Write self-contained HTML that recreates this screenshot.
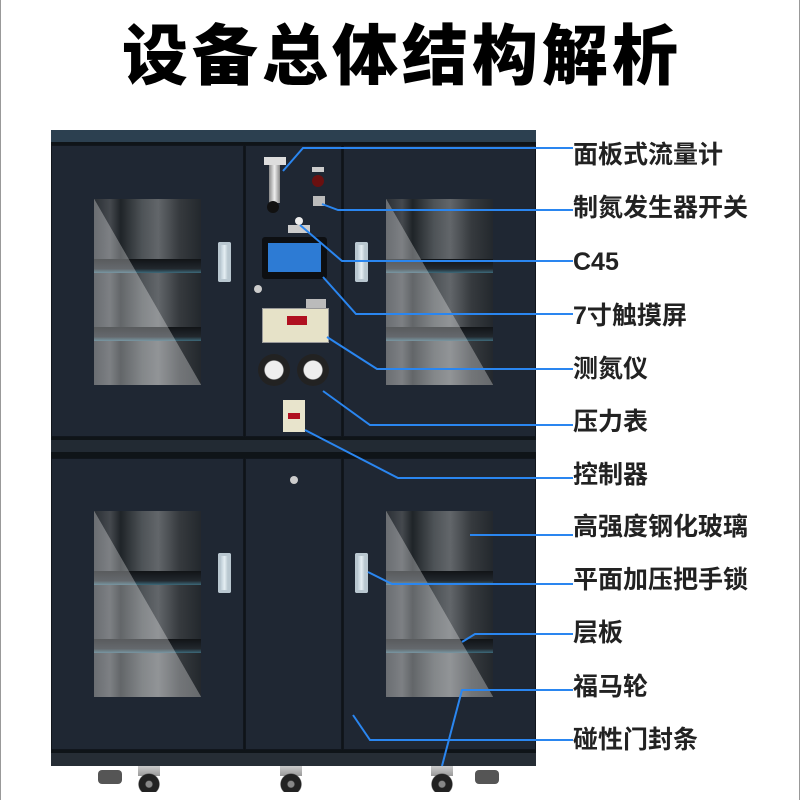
<!DOCTYPE html>
<html><head><meta charset="utf-8"><style>
body{margin:0;width:800px;height:800px;background:#fff;position:relative;overflow:hidden;font-family:"Liberation Sans","Noto Sans CJK SC",sans-serif}
.a{position:absolute}
.title{left:0;width:800px;top:14px;text-align:center;font-size:66px;font-weight:900;letter-spacing:4px;color:#000;line-height:84px;padding-left:4px;box-sizing:border-box}
.door{background:#1f2733;border:1px solid #11161d;box-sizing:border-box}
.glass{background:linear-gradient(90deg,#2a2f35 0%,#45494e 15%,#1f2428 25%,#4e5357 45%,#62666a 60%,#363a3e 80%,#23282d 100%);}
.shelf{position:absolute;left:0;right:0;height:14px;background:linear-gradient(#111417,#22282e 70%,#3d6a7a)}
.hl{position:absolute;inset:0;background:linear-gradient(to top right,rgba(255,255,255,0.3) 50%,rgba(255,255,255,0) 50.2%)}
.handle{width:13px;height:40px;background:linear-gradient(90deg,#9fb3c0,#e5eef3,#8ea2ae);border-radius:2px;box-shadow:inset 0 0 0 3px #b9c7d0}
.lab{left:573px;font-size:25px;font-weight:700;color:#222;line-height:30px;white-space:nowrap}
.wheel{width:22px;height:26px;background:radial-gradient(circle at 50% 70%,#888 0 3px,#222 4px 10px,transparent 11px),linear-gradient(#ccc,#999) top/100% 10px no-repeat}
</style></head><body>
<div class="a" style="left:0;top:0;width:1px;height:800px;background:#999"></div>
<div class="a" style="left:799px;top:0;width:1px;height:800px;background:#999"></div>
<div class="a title">设备总体结构解析</div>

<div class="a" style="left:51px;top:130px;width:485px;height:636px;background:#0f1418"></div>
<div class="a" style="left:51px;top:130px;width:485px;height:12px;background:#2c4050"></div>
<div class="a door" style="left:51px;top:145px;width:193px;height:292px"></div>
<div class="a door" style="left:245px;top:145px;width:97px;height:292px"></div>
<div class="a door" style="left:343px;top:145px;width:193px;height:292px"></div>
<div class="a" style="left:51px;top:440px;width:485px;height:12px;background:#222a33"></div>
<div class="a door" style="left:51px;top:458px;width:193px;height:292px"></div>
<div class="a door" style="left:245px;top:458px;width:97px;height:292px"></div>
<div class="a door" style="left:343px;top:458px;width:193px;height:292px"></div>
<div class="a" style="left:51px;top:753px;width:485px;height:13px;background:#262d35"></div>

<div class="a glass" style="left:94px;top:199px;width:107px;height:186px"><div class="shelf" style="top:60px"></div><div class="shelf" style="top:128px"></div><div class="hl"></div></div>
<div class="a glass" style="left:386px;top:199px;width:107px;height:186px"><div class="shelf" style="top:60px"></div><div class="shelf" style="top:128px"></div><div class="hl"></div></div>
<div class="a glass" style="left:94px;top:511px;width:107px;height:186px"><div class="shelf" style="top:60px"></div><div class="shelf" style="top:128px"></div><div class="hl"></div></div>
<div class="a glass" style="left:386px;top:511px;width:107px;height:186px"><div class="shelf" style="top:60px"></div><div class="shelf" style="top:128px"></div><div class="hl"></div></div>

<div class="a handle" style="left:218px;top:242px"></div>
<div class="a handle" style="left:355px;top:242px"></div>
<div class="a handle" style="left:218px;top:553px"></div>
<div class="a handle" style="left:355px;top:553px"></div>

<div class="a" style="left:264px;top:157px;width:22px;height:8px;background:#ddd"></div>
<div class="a" style="left:269px;top:165px;width:11px;height:38px;background:linear-gradient(90deg,#888,#eee,#888)"></div>
<div class="a" style="left:267px;top:201px;width:12px;height:12px;border-radius:50%;background:#111"></div>
<div class="a" style="left:312px;top:167px;width:12px;height:5px;background:#ccc"></div>
<div class="a" style="left:312px;top:175px;width:12px;height:12px;border-radius:50%;background:#6a1010"></div>
<div class="a" style="left:313px;top:196px;width:12px;height:10px;background:#bbb"></div>
<div class="a" style="left:288px;top:225px;width:22px;height:8px;background:#ccc"></div>
<div class="a" style="left:295px;top:217px;width:8px;height:8px;border-radius:50%;background:#eee"></div>
<div class="a" style="left:262px;top:237px;width:65px;height:42px;background:#0d0f12;border-radius:3px"></div>
<div class="a" style="left:268px;top:243px;width:53px;height:29px;background:#2d7bd4"></div>
<div class="a" style="left:254px;top:285px;width:8px;height:8px;border-radius:50%;background:#ccc"></div>
<div class="a" style="left:306px;top:299px;width:20px;height:9px;background:#bbb"></div>
<div class="a" style="left:262px;top:308px;width:65px;height:33px;background:#e6e2c8;border:1px solid #999"></div>
<div class="a" style="left:287px;top:316px;width:20px;height:9px;background:#b01020"></div>
<div class="a" style="left:258px;top:354px;width:32px;height:32px;border-radius:50%;background:radial-gradient(#eee 0 9px,#222 10px)"></div>
<div class="a" style="left:297px;top:354px;width:32px;height:32px;border-radius:50%;background:radial-gradient(#eee 0 9px,#222 10px)"></div>
<div class="a" style="left:283px;top:400px;width:22px;height:32px;background:#e8e4cc"></div>
<div class="a" style="left:288px;top:413px;width:12px;height:6px;background:#b01020"></div>
<div class="a" style="left:290px;top:476px;width:8px;height:8px;border-radius:50%;background:#ccc"></div>

<div class="a" style="left:98px;top:770px;width:24px;height:14px;background:#555;border-radius:4px"></div>
<div class="a wheel" style="left:138px;top:766px"></div>
<div class="a wheel" style="left:280px;top:766px"></div>
<div class="a wheel" style="left:431px;top:766px"></div>
<div class="a" style="left:475px;top:770px;width:24px;height:14px;background:#555;border-radius:4px"></div>

<svg class="a" style="left:0;top:0" width="800" height="800">
<g stroke="#2a86f0" stroke-width="2" fill="none">
<polyline points="283,171 303,148 573,148"/>
<polyline points="322,204 338,210 573,210"/>
<polyline points="300,225 342,261 573,261"/>
<polyline points="323,277 356,314 573,314"/>
<polyline points="327,337 377,369 573,369"/>
<polyline points="323,391 370,425 573,425"/>
<polyline points="305,430 398,478 573,478"/>
<polyline points="470,535 573,535"/>
<polyline points="368,572 392,584 573,584"/>
<polyline points="462,642 475,634 573,634"/>
<polyline points="442,766 462,690 573,690"/>
<polyline points="353,715 370,740 573,740"/>
</g></svg>

<div class="a lab" style="top:140px">面板式流量计</div>
<div class="a lab" style="top:193px">制氮发生器开关</div>
<div class="a lab" style="top:247px">C45</div>
<div class="a lab" style="top:301px">7寸触摸屏</div>
<div class="a lab" style="top:354px">测氮仪</div>
<div class="a lab" style="top:407px">压力表</div>
<div class="a lab" style="top:460px">控制器</div>
<div class="a lab" style="top:512px">高强度钢化玻璃</div>
<div class="a lab" style="top:565px">平面加压把手锁</div>
<div class="a lab" style="top:618px">层板</div>
<div class="a lab" style="top:672px">福马轮</div>
<div class="a lab" style="top:725px">碰性门封条</div>
</body></html>
